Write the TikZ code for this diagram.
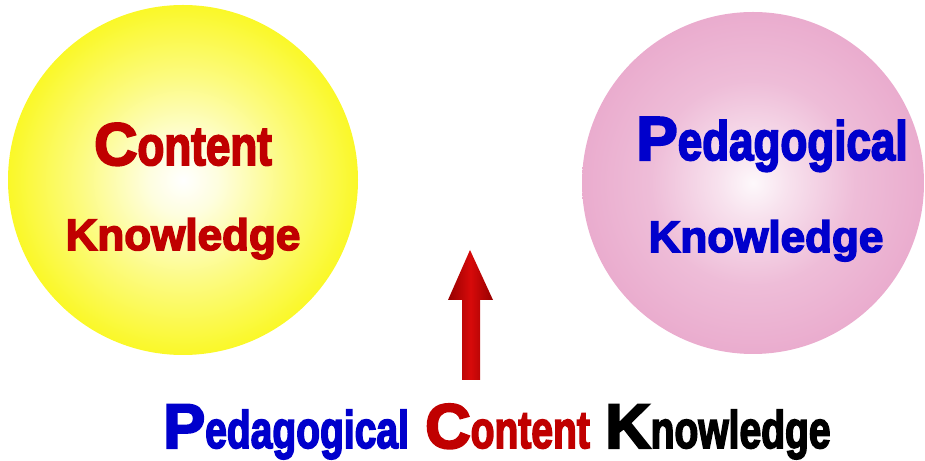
\documentclass[tikz,border=0pt]{standalone}
\usepackage{graphicx}
\usepackage{fontspec}
\setmainfont{Liberation Sans}[BoldFeatures={FakeBold=3.5}]
\definecolor{ckred}{RGB}{192,0,0}
\definecolor{pkblue}{RGB}{0,0,204}
\definecolor{ballyellow}{RGB}{250,248,40}
\definecolor{ballpink}{RGB}{234,172,206}
\definecolor{arrowdark}{RGB}{150,0,0}
\definecolor{arrowlight}{RGB}{215,10,10}
\pgfdeclareradialshading{yellow ball}{\pgfpoint{0bp}{0bp}}{%
  color(0bp)=(white); color(5bp)=(ballyellow!15!white);
  color(15bp)=(ballyellow!60!white); color(25bp)=(ballyellow);
  color(33bp)=(ballyellow!96!black); color(50bp)=(ballyellow!90!black)}
\pgfdeclareradialshading{pink ball}{\pgfpoint{0bp}{0bp}}{%
  color(0bp)=(white!92!ballpink); color(5bp)=(ballpink!35!white);
  color(15bp)=(ballpink!80!white); color(25bp)=(ballpink);
  color(33bp)=(ballpink!97!black); color(50bp)=(ballpink!92!black)}
% big first letter, then the rest of the word drawn taller
\newcommand{\initial}[3]{{\fontsize{#1}{#1}\selectfont #2}\scalebox{1}[1.25]{#3}}
\tikzstyle{sphere label}=[anchor=base, inner sep=0pt, font=\bfseries\fontsize{44}{44}\selectfont]
\tikzstyle{title word}=[anchor=base west, inner sep=0pt, font=\bfseries\fontsize{39}{39}\selectfont]
\begin{document}
\begin{tikzpicture}[x=1pt, y=1pt]
  \useasboundingbox (0,0) rectangle (925,460);
  % the two spheres
  \shade[shading=yellow ball] (183,280) circle (175);
  \shade[shading=pink ball] (753,277) circle (171);
  \node[sphere label, ckred] (content) at (183,295) {\initial{60}{C}{ontent}};
  \node[sphere label, ckred] (contentk) at (183,210) {Knowledge};
  \node[sphere label, pkblue] (pedagogy) at (772,300) {\initial{62}{P}{edagogical}};
  \node[sphere label, pkblue] (pedagogyk) at (766,208) {Knowledge};
  % arrow up to the middle
  \shade[left color=arrowdark, right color=arrowdark, middle color=arrowlight]
    (462,80) -- (462,160) -- (448,160) -- (470,210) -- (493,160)
    -- (480,160) -- (480,80) -- cycle;
  % title line
  \node[title word, pkblue] (pcP) at (163,12) {\initial{63}{P}{\scalebox{1}[1.08]{edagogical}}};
  \node[title word, ckred] (pcC) at (425,12) {\initial{63}{C}{\scalebox{1}[1.08]{ontent}}};
  \node[title word, black] (pcK) at (605,12) {\initial{63}{K}{\scalebox{1}[1.08]{nowledge}}};
\end{tikzpicture}
\end{document}
